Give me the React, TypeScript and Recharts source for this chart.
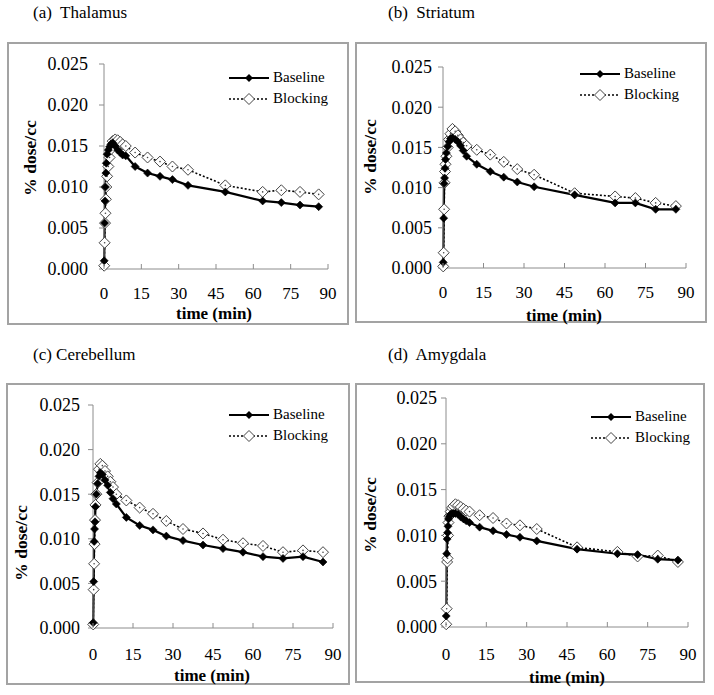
import React from 'react';
import { LineChart, Line, XAxis, YAxis, Legend } from 'recharts';

// ---------- data ----------
const timesMain = [0.08, 0.25, 0.42, 0.58, 0.75, 0.92, 1.25, 1.75, 2.25, 2.75, 3.5, 4.5, 5.5, 6.5, 7.5, 8.75, 12.5, 17.5, 22.5, 27.5, 33.75, 48.75, 63.75, 71.25, 78.75, 86.25];
const timesCerebellum = [0.08, 0.25, 0.42, 0.58, 0.75, 0.92, 1.25, 1.75, 2.25, 2.75, 3.5, 4.5, 5.5, 6.5, 7.5, 8.75, 12.5, 17.5, 22.5, 27.5, 33.75, 41.25, 48.75, 56.25, 63.75, 71.25, 78.75, 86.25];

const thalamusBaseline = [0.0010, 0.0056, 0.0083, 0.0100, 0.0117, 0.0129, 0.0140, 0.0145, 0.0149, 0.0152, 0.0154, 0.0150, 0.0145, 0.0142, 0.0139, 0.0138, 0.0125, 0.0117, 0.0113, 0.0109, 0.0102, 0.0094, 0.0083, 0.0081, 0.0078, 0.0076];
const thalamusBlocking = [0.0004, 0.0032, 0.0056, 0.0068, 0.0085, 0.0100, 0.0113, 0.0125, 0.0136, 0.0146, 0.0156, 0.0158, 0.0157, 0.0155, 0.0152, 0.0150, 0.0142, 0.0136, 0.0131, 0.0125, 0.0121, 0.0102, 0.0094, 0.0096, 0.0094, 0.0091];

const striatumBaseline = [0.0007, 0.0062, 0.0105, 0.0112, 0.0124, 0.0135, 0.0143, 0.0151, 0.0157, 0.0161, 0.0162, 0.0160, 0.0157, 0.0152, 0.0146, 0.0139, 0.0129, 0.0120, 0.0113, 0.0107, 0.0101, 0.0091, 0.0081, 0.0081, 0.0073, 0.0073];
const striatumBlocking = [0.0002, 0.0019, 0.0073, 0.0106, 0.0120, 0.0129, 0.0139, 0.0150, 0.0160, 0.0167, 0.0173, 0.0170, 0.0165, 0.0160, 0.0156, 0.0152, 0.0147, 0.0141, 0.0132, 0.0123, 0.0116, 0.0093, 0.0089, 0.0087, 0.0081, 0.0077];

const cerebellumBaseline = [0.0006, 0.0052, 0.0097, 0.0111, 0.0119, 0.0136, 0.0150, 0.0162, 0.0170, 0.0174, 0.0172, 0.0166, 0.0160, 0.0152, 0.0145, 0.0139, 0.0124, 0.0115, 0.0110, 0.0103, 0.0098, 0.0093, 0.0089, 0.0085, 0.0080, 0.0078, 0.0080, 0.0074];
const cerebellumBlocking = [0.0004, 0.0043, 0.0072, 0.0094, 0.0121, 0.0138, 0.0150, 0.0163, 0.0178, 0.0184, 0.0182, 0.0176, 0.0170, 0.0164, 0.0158, 0.0150, 0.0143, 0.0135, 0.0128, 0.0120, 0.0111, 0.0106, 0.0099, 0.0095, 0.0092, 0.0085, 0.0087, 0.0085];

const amygdalaBaseline = [0.0012, 0.0080, 0.0096, 0.0103, 0.0110, 0.0118, 0.0121, 0.0123, 0.0124, 0.0124, 0.0124, 0.0123, 0.0120, 0.0118, 0.0116, 0.0114, 0.0109, 0.0105, 0.0101, 0.0098, 0.0094, 0.0085, 0.0080, 0.0079, 0.0074, 0.0073];
const amygdalaBlocking = [0.0003, 0.0020, 0.0071, 0.0075, 0.0100, 0.0114, 0.0121, 0.0126, 0.0130, 0.0132, 0.0134, 0.0133, 0.0131, 0.0129, 0.0127, 0.0126, 0.0122, 0.0119, 0.0113, 0.0111, 0.0107, 0.0087, 0.0082, 0.0077, 0.0078, 0.0071];

const xTicks = [0, 15, 30, 45, 60, 75, 90];
const yTicks = [0, 0.005, 0.01, 0.015, 0.02, 0.025];
const seriesNames = ['Baseline', 'Blocking'];
const panelTitles = ['(a)  Thalamus', '(b)  Striatum', '(c) Cerebellum', '(d)  Amygdala'];
const xAxisTitle = 'time (min)';
const yAxisTitle = '% dose/cc';

// ---------- style / layout ----------
const SERIF = "'Liberation Serif', Tinos, 'Times New Roman', Times, 'DejaVu Serif', 'Noto Serif', serif";
const AXIS_GRAY = '#8c8c8c';

type Layout = {
  L: number; T: number; W: number; H: number;
  pl: number; pt: number; pr: number; pb: number;
  yTickMargin: number; xLabelDy: number;
  legLeft: number; legTop: number;
  titleX: number; titleY: number;
  yTitleX: number; yTitleY: number;
  xTitleX: number; xTitleY: number;
};

const layouts: Layout[] = [
  { L: 7, T: 42, W: 342, H: 283, pl: 97, pt: 22, pr: 21, pb: 56, yTickMargin: 11, xLabelDy: 30, legLeft: 221, legTop: 25, titleX: 33, titleY: 3, yTitleX: 30, yTitleY: 158, xTitleX: 214, xTitleY: 314 },
  { L: 355, T: 42, W: 352, H: 281, pl: 88, pt: 25, pr: 21, pb: 55, yTickMargin: 6, xLabelDy: 30, legLeft: 224, legTop: 21, titleX: 388, titleY: 3, yTitleX: 370, yTitleY: 157, xTitleX: 564, xTitleY: 316 },
  { L: 6, T: 383, W: 344, H: 302, pl: 87, pt: 22, pr: 17, pb: 57, yTickMargin: 8, xLabelDy: 32, legLeft: 222, legTop: 21, titleX: 33, titleY: 345, yTitleX: 21, yTitleY: 543, xTitleX: 212, xTitleY: 676 },
  { L: 355, T: 383, W: 350, H: 300, pl: 91, pt: 15, pr: 17, pb: 56, yTickMargin: 4, xLabelDy: 33, legLeft: 235, legTop: 23, titleX: 388, titleY: 345, yTitleX: 370, yTitleY: 515, xTitleX: 567, xTitleY: 678 },
];

const buildRows = (times: number[], base: number[], block: number[]) =>
  times.map((t, i) => ({ t, baseline: base[i], blocking: block[i] }));

const panelData = [
  buildRows(timesMain, thalamusBaseline, thalamusBlocking),
  buildRows(timesMain, striatumBaseline, striatumBlocking),
  buildRows(timesCerebellum, cerebellumBaseline, cerebellumBlocking),
  buildRows(timesMain, amygdalaBaseline, amygdalaBlocking),
];

const diamondPath = (cx: number, cy: number, r: number) =>
  `M${cx},${cy - r}L${cx + r},${cy}L${cx},${cy + r}L${cx - r},${cy}Z`;

const FilledDot = (props: any) => {
  const { cx, cy, index } = props;
  if (cx == null || cy == null) return <g key={`f${index}`} />;
  return <path key={`f${index}`} d={diamondPath(cx, cy, 4)} fill="#000" stroke="#000" strokeWidth={0.6} />;
};

const OpenDot = (props: any) => {
  const { cx, cy, index } = props;
  if (cx == null || cy == null) return <g key={`o${index}`} />;
  return (
    <g key={`o${index}`}>
      <path d={diamondPath(cx, cy, 5.5)} fill="#fff" stroke="#444" strokeWidth={1} />
      <circle cx={cx} cy={cy} r={0.8} fill="#444" />
    </g>
  );
};

const makeXTick = (dy: number) => (props: any) => {
  const { x, y, payload } = props;
  return (
    <g>
      <line x1={x} x2={x} y1={y} y2={y - 5} stroke={AXIS_GRAY} strokeWidth={1} />
      <text x={x} y={y + dy} textAnchor="middle" fill="#000" fontSize={17} style={{ fontFamily: SERIF }}>
        {payload.value}
      </text>
    </g>
  );
};

const LegendContent = () => (
  <div style={{ fontFamily: SERIF, fontSize: 15, color: '#000', lineHeight: '21px' }}>
    {seriesNames.map((name, i) => (
      <div key={name} style={{ display: 'flex', alignItems: 'center', height: 21 }}>
        <svg width={42} height={14} style={{ display: 'block' }}>
          <line x1={1} x2={41} y1={7} y2={7} stroke="#000" strokeWidth={i === 0 ? 2.2 : 1.6} strokeDasharray={i === 0 ? undefined : '2 2'} />
          {i === 0 ? (
            <path d={diamondPath(21, 7, 4)} fill="#000" />
          ) : (
            <path d={diamondPath(21, 7, 5.5)} fill="#fff" stroke="#444" strokeWidth={1} />
          )}
        </svg>
        <span style={{ marginLeft: 3 }}>{name}</span>
      </div>
    ))}
  </div>
);

const Panel = ({ idx }: { idx: number }) => {
  const g = layouts[idx];
  const data = panelData[idx];
  const yAxisWidth = g.pl - 5;
  return (
    <>
      <div style={{ position: 'absolute', left: g.L, top: g.T, width: g.W, height: g.H, border: '2px solid #a3a3a3', boxSizing: 'border-box' }} />
      <div style={{ position: 'absolute', left: g.titleX, top: g.titleY, fontFamily: SERIF, fontSize: 17, lineHeight: '20px', whiteSpace: 'pre', color: '#000' }}>
        {panelTitles[idx]}
      </div>
      <div style={{ position: 'absolute', left: g.L, top: g.T }}>
        <LineChart width={g.W} height={g.H} data={data} margin={{ left: 5, top: g.pt, right: g.pr, bottom: 0 }} style={{ fontFamily: SERIF }}>
          <XAxis
            type="number"
            dataKey="t"
            domain={[0, 90]}
            ticks={xTicks}
            interval={0}
            height={g.pb}
            stroke={AXIS_GRAY}
            tickLine={false}
            tickSize={0}
            tickMargin={0}
            tick={makeXTick(g.xLabelDy)}
          />
          <YAxis
            type="number"
            domain={[0, 0.025]}
            ticks={yTicks}
            interval={0}
            width={yAxisWidth}
            stroke={AXIS_GRAY}
            tickSize={5}
            tickMargin={g.yTickMargin}
            tickFormatter={(v: number) => v.toFixed(3)}
            tick={{ fill: '#000', fontSize: 18, style: { fontFamily: SERIF } }}
          />
          <Legend
            layout="vertical"
            align="center"
            verticalAlign="middle"
            content={<LegendContent />}
            wrapperStyle={{ left: g.legLeft, top: g.legTop, width: 120, height: 44 }}
          />
          <Line
            name={seriesNames[1]}
            dataKey="blocking"
            stroke="#000"
            strokeWidth={1.6}
            strokeDasharray="2 2"
            dot={OpenDot}
            activeDot={false}
            isAnimationActive={false}
          />
          <Line
            name={seriesNames[0]}
            dataKey="baseline"
            stroke="#000"
            strokeWidth={2.2}
            dot={FilledDot}
            activeDot={false}
            isAnimationActive={false}
          />
        </LineChart>
      </div>
      <div style={{ position: 'absolute', left: g.yTitleX, top: g.yTitleY, transform: 'translate(-50%, -50%) rotate(-90deg)', fontFamily: SERIF, fontWeight: 'bold', fontSize: 17.5, whiteSpace: 'nowrap', color: '#000' }}>
        {yAxisTitle}
      </div>
      <div style={{ position: 'absolute', left: g.xTitleX, top: g.xTitleY, transform: 'translate(-50%, -50%)', fontFamily: SERIF, fontWeight: 'bold', fontSize: 17, lineHeight: '18px', whiteSpace: 'nowrap', color: '#000' }}>
        {xAxisTitle}
      </div>
    </>
  );
};

export default function App() {
  return (
    <div style={{ position: 'absolute', left: 0, top: 0, width: 714, height: 695, background: '#fff', fontFamily: SERIF }}>
      {[0, 1, 2, 3].map((i) => (
        <Panel key={i} idx={i} />
      ))}
    </div>
  );
}
